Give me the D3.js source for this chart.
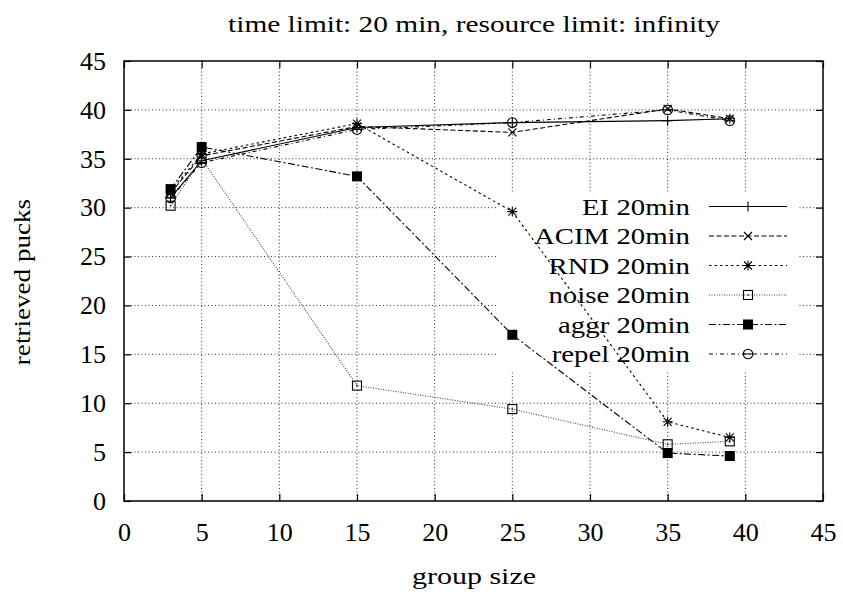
<!DOCTYPE html>
<meta charset="utf-8">
<script src="https://d3js.org/d3.v7.min.js"></script>
<style>
  body { margin: 0; background: #fff; }
  text { font-family: "Liberation Serif", "DejaVu Serif", serif; fill: #000; }
</style>
<div id="chart"></div>
<script>

// data
var groupSizes = [3, 5, 15, 25, 35, 39];
var eiVals    = [31.0, 34.8, 38.2, 38.7, 38.9, 39.1];
var acimVals  = [31.5, 35.3, 38.3, 37.7, 40.1, 39.1];
var rndVals   = [31.7, 35.5, 38.6, 29.6, 8.1, 6.5];
var noiseVals = [30.2, 35.0, 11.8, 9.4, 5.8, 6.1];
var aggrVals  = [31.9, 36.2, 33.2, 17.0, 4.9, 4.6];
var repelVals = [31.0, 34.6, 38.0, 38.7, 40.0, 38.9];
var seriesNames = ["EI 20min", "ACIM 20min", "RND 20min", "noise 20min", "aggr 20min", "repel 20min"];
var xTicks = [0, 5, 10, 15, 20, 25, 30, 35, 40, 45];
var yTicks = [0, 5, 10, 15, 20, 25, 30, 35, 40, 45];

var series = [
  {name: seriesNames[0], values: eiVals,    dash: null,          marker: "plus",    color: "#000"},
  {name: seriesNames[1], values: acimVals,  dash: "5,2.5",       marker: "cross",   color: "#000"},
  {name: seriesNames[2], values: rndVals,   dash: "2.5,3",       marker: "star",    color: "#000"},
  {name: seriesNames[3], values: noiseVals, dash: "1,1.5",       marker: "square",  color: "#444"},
  {name: seriesNames[4], values: aggrVals,  dash: "7,2.5,2,2.5", marker: "fsquare", color: "#000"},
  {name: seriesNames[5], values: repelVals, dash: "4,3,1,3",     marker: "circle",  color: "#000"}
];

var W = 843, H = 595;
var margin = {top: 61, right: 20, bottom: 94, left: 124};
var width = W - margin.left - margin.right,
    height = H - margin.top - margin.bottom;

var svg = d3.select("#chart").append("svg")
    .attr("width", W).attr("height", H);

var g = svg.append("g")
    .attr("transform", "translate(" + margin.left + "," + margin.top + ")");

var x = d3.scaleLinear().domain([0, 45]).range([0, width]);
var y = d3.scaleLinear().domain([0, 45]).range([height, 0]);

// the original picture was stretched sideways, so text gets a small x scale
function wideText(parent, px, py, sx, size, anchor, str, rot) {
  var t = "translate(" + px + "," + py + ")" + (rot ? " rotate(" + rot + ")" : "") + " scale(" + sx + ",1)";
  return parent.append("text").attr("transform", t)
    .attr("dy", "0.35em").attr("text-anchor", anchor)
    .style("font-size", size + "px").text(str);
}

// grid
g.append("g").selectAll("line").data(xTicks.slice(1, -1)).enter().append("line")
    .attr("x1", function(d) { return x(d); }).attr("x2", function(d) { return x(d); })
    .attr("y1", 0).attr("y2", height)
    .attr("stroke", "#333").attr("stroke-width", 1).attr("stroke-dasharray", "1,2.5");
g.append("g").selectAll("line").data(yTicks.slice(1, -1)).enter().append("line")
    .attr("y1", function(d) { return y(d); }).attr("y2", function(d) { return y(d); })
    .attr("x1", 0).attr("x2", width)
    .attr("stroke", "#333").attr("stroke-width", 1).attr("stroke-dasharray", "1,2.5");

// axes with inward ticks
function styleAxis(sel) {
  sel.select(".domain").remove();
  sel.selectAll(".tick line").attr("stroke", "#000").attr("stroke-width", 1.2);
  sel.selectAll(".tick text").style("font-size", "26px")
    .style("font-family", "Liberation Serif, serif");
}
g.append("g").attr("transform", "translate(0," + height + ")")
  .call(d3.axisBottom(x).tickValues(xTicks).tickSizeInner(-7).tickSizeOuter(0).tickPadding(22))
  .call(styleAxis);
g.append("g")
  .call(d3.axisTop(x).tickValues(xTicks).tickSizeInner(-7).tickSizeOuter(0).tickFormat(""))
  .call(styleAxis);
g.append("g")
  .call(d3.axisLeft(y).tickValues(yTicks).tickSizeInner(-7).tickSizeOuter(0).tickPadding(18))
  .call(styleAxis);
g.append("g").attr("transform", "translate(" + width + ",0)")
  .call(d3.axisRight(y).tickValues(yTicks).tickSizeInner(-7).tickSizeOuter(0).tickFormat(""))
  .call(styleAxis);

g.append("rect").attr("width", width).attr("height", height)
  .attr("fill", "none").attr("stroke", "#000").attr("stroke-width", 1.5);

// legend box (opaque over grid)
var legX = 373, legY = 132, legW = 300, legH = 177;
g.append("rect").attr("x", legX).attr("y", legY).attr("width", legW).attr("height", legH)
  .attr("fill", "#fff");

function drawMarker(sel, type, color) {
  if (type === "plus") {
    sel.append("path").attr("d", "M-5,0H5M0,-5V5").attr("stroke", color).attr("stroke-width", 1.1).attr("fill", "none");
  } else if (type === "cross") {
    sel.append("path").attr("d", "M-4,-4L4,4M-4,4L4,-4").attr("stroke", color).attr("stroke-width", 1.1).attr("fill", "none");
  } else if (type === "star") {
    sel.append("path").attr("d", "M-5,0H5M0,-5V5M-4,-4L4,4M-4,4L4,-4").attr("stroke", color).attr("stroke-width", 1.1).attr("fill", "none");
  } else if (type === "square") {
    sel.append("rect").attr("x", -4.5).attr("y", -4.5).attr("width", 9).attr("height", 9)
      .attr("fill", "none").attr("stroke", "#000").attr("stroke-width", 1.1);
    sel.append("circle").attr("r", 0.8).attr("fill", "#000");
  } else if (type === "fsquare") {
    sel.append("rect").attr("x", -5).attr("y", -5).attr("width", 10).attr("height", 10).attr("fill", "#000");
  } else if (type === "circle") {
    sel.append("circle").attr("r", 4.8).attr("fill", "none").attr("stroke", "#000").attr("stroke-width", 1.1);
    sel.append("path").attr("d", "M-4.8,0H4.8").attr("stroke", "#000").attr("stroke-width", 1);
  }
}

var line = d3.line()
  .x(function(d, i) { return x(groupSizes[i]); })
  .y(function(d) { return y(d); });

series.forEach(function(s, k) {
  g.append("path").datum(s.values)
    .attr("d", line)
    .attr("fill", "none")
    .attr("stroke", s.color)
    .attr("stroke-width", 1.1)
    .attr("stroke-dasharray", s.dash);
  s.values.forEach(function(v, i) {
    var m = g.append("g").attr("transform", "translate(" + x(groupSizes[i]) + "," + y(v) + ")");
    drawMarker(m, s.marker, s.color);
  });

  // legend entry
  var ly = 206.5 - margin.top + k * 29.5;
  wideText(g, 690 - margin.left, ly, 1.2, 24, "end", s.name);
  g.append("line").attr("x1", 709 - margin.left).attr("x2", 787 - margin.left)
    .attr("y1", ly).attr("y2", ly)
    .attr("stroke", s.color).attr("stroke-width", 1.1).attr("stroke-dasharray", s.dash);
  var lm = g.append("g").attr("transform", "translate(" + (748 - margin.left) + "," + ly + ")");
  drawMarker(lm, s.marker, s.color);
});

// title and axis labels
wideText(svg, 474, 24, 1.25, 23.5, "middle", "time limit: 20 min, resource limit: infinity");
wideText(svg, 474, 576, 1.25, 24, "middle", "group size");
wideText(svg, 22, 282, 1.13, 24, "middle", "retrieved pucks", -90);

</script>
